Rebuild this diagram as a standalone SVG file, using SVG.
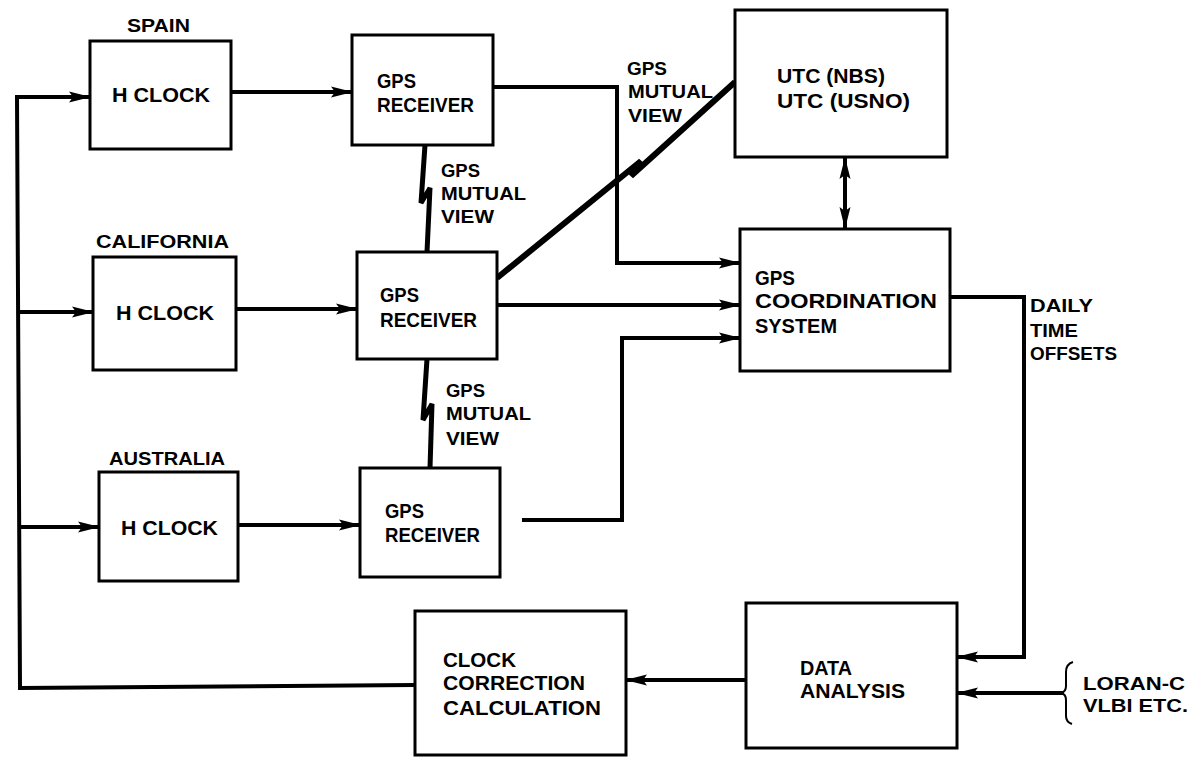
<svg xmlns="http://www.w3.org/2000/svg" width="1192" height="760" viewBox="0 0 1192 760">
<defs>
<marker id="ah" viewBox="0 0 22 12" refX="21" refY="6" markerWidth="22" markerHeight="12" markerUnits="userSpaceOnUse" orient="auto-start-reverse">
<path d="M0,0.5 L22,6 L0,11.5 L4,6 Z" fill="#000"/>
</marker>
<style>
.box{fill:#fff;stroke:#000;stroke-width:3}
.t{font-family:"Liberation Sans",Arial,sans-serif;font-weight:bold;font-size:20px;fill:#000}
.s{font-size:18px}
.ln{fill:none;stroke:#000;stroke-width:4;stroke-linejoin:miter}
.bolt{fill:none;stroke:#000;stroke-width:5;stroke-linejoin:miter}
</style>
</defs>
<rect width="1192" height="760" fill="#fff"/>

<g id="connectors">
<path class="ln" d="M415,685 L20,688 L17,97 L90,97" marker-end="url(#ah)"/>
<path class="ln" d="M19,312 L93,312" marker-end="url(#ah)"/>
<path class="ln" d="M21,527 L99,527" marker-end="url(#ah)"/>
<path class="ln" d="M231,92 L352,92" marker-end="url(#ah)"/>
<path class="ln" d="M236,309 L357,309" marker-end="url(#ah)"/>
<path class="ln" d="M238,525 L360,525" marker-end="url(#ah)"/>
<path class="ln" d="M493,87 L617,87 L617,263 L740,263" marker-end="url(#ah)"/>
<path class="ln" d="M497,305 L740,305" marker-end="url(#ah)"/>
<path class="ln" d="M522,520 L622,520 L622,338 L740,338" marker-end="url(#ah)"/>
<path class="ln" d="M845,158 L845,228" marker-start="url(#ah)" marker-end="url(#ah)"/>
<path class="ln" d="M950,297 L1024,297 L1024,657 L957,657" marker-end="url(#ah)"/>
<path class="ln" d="M1064,693 L957,693" marker-end="url(#ah)"/>
<path class="ln" d="M746,680 L626,680" marker-end="url(#ah)"/>
<path class="bolt" d="M425,145 L421,203 L430,188 L427,252"/>
<path class="bolt" d="M427,359 L423,420 L432,404 L430,468"/>
<path class="bolt" d="M497,278 L641,161 L631,176 L735,82" style="stroke-width:6"/>
<path fill="none" stroke="#000" stroke-width="2" d="M1073,662 Q1066,664 1066,672 L1066,686 Q1066,692 1061,693 Q1066,694 1066,700 L1066,716 Q1066,722 1072,724"/>
</g>

<g id="spain-clock">
<rect class="box" x="90" y="41" width="141" height="108"/>
<text class="t s" x="127" y="32" textLength="63" lengthAdjust="spacingAndGlyphs">SPAIN</text>
<text class="t" x="112" y="102" textLength="98" lengthAdjust="spacingAndGlyphs">H CLOCK</text>
</g>
<g id="california-clock">
<rect class="box" x="93" y="257" width="143" height="113"/>
<text class="t s" x="96" y="248" textLength="133" lengthAdjust="spacingAndGlyphs">CALIFORNIA</text>
<text class="t" x="116" y="320" textLength="98" lengthAdjust="spacingAndGlyphs">H CLOCK</text>
</g>
<g id="australia-clock">
<rect class="box" x="99" y="472" width="139" height="109"/>
<text class="t s" x="109" y="465" textLength="116" lengthAdjust="spacingAndGlyphs">AUSTRALIA</text>
<text class="t" x="121" y="535" textLength="97" lengthAdjust="spacingAndGlyphs">H CLOCK</text>
</g>

<g id="spain-receiver">
<rect class="box" x="352" y="35" width="141" height="110"/>
<text class="t" x="377" y="88" textLength="39" lengthAdjust="spacingAndGlyphs">GPS</text>
<text class="t" x="377" y="112" textLength="97" lengthAdjust="spacingAndGlyphs">RECEIVER</text>
</g>
<g id="california-receiver">
<rect class="box" x="357" y="252" width="140" height="107"/>
<text class="t" x="380" y="302" textLength="39" lengthAdjust="spacingAndGlyphs">GPS</text>
<text class="t" x="380" y="327" textLength="97" lengthAdjust="spacingAndGlyphs">RECEIVER</text>
</g>
<g id="australia-receiver">
<rect class="box" x="360" y="468" width="140" height="109"/>
<text class="t" x="385" y="518" textLength="39" lengthAdjust="spacingAndGlyphs">GPS</text>
<text class="t" x="385" y="542" textLength="95" lengthAdjust="spacingAndGlyphs">RECEIVER</text>
</g>

<g id="mutual-view-labels">
<text class="t s" x="441" y="177" textLength="39" lengthAdjust="spacingAndGlyphs">GPS</text>
<text class="t s" x="441" y="200" textLength="85" lengthAdjust="spacingAndGlyphs">MUTUAL</text>
<text class="t s" x="441" y="223" textLength="53" lengthAdjust="spacingAndGlyphs">VIEW</text>
<text class="t s" x="446" y="397" textLength="39" lengthAdjust="spacingAndGlyphs">GPS</text>
<text class="t s" x="446" y="420" textLength="85" lengthAdjust="spacingAndGlyphs">MUTUAL</text>
<text class="t s" x="446" y="445" textLength="53" lengthAdjust="spacingAndGlyphs">VIEW</text>
<text class="t s" x="627" y="75" textLength="40" lengthAdjust="spacingAndGlyphs">GPS</text>
<text class="t s" x="628" y="98" textLength="85" lengthAdjust="spacingAndGlyphs">MUTUAL</text>
<text class="t s" x="628" y="122" textLength="54" lengthAdjust="spacingAndGlyphs">VIEW</text>
</g>

<g id="utc">
<rect class="box" x="735" y="10" width="212" height="147"/>
<text class="t" x="777" y="83" textLength="108" lengthAdjust="spacingAndGlyphs">UTC (NBS)</text>
<text class="t" x="777" y="108" textLength="133" lengthAdjust="spacingAndGlyphs">UTC (USNO)</text>
</g>
<g id="coordination">
<rect class="box" x="740" y="229" width="210" height="142"/>
<text class="t" x="755" y="285" textLength="40" lengthAdjust="spacingAndGlyphs">GPS</text>
<text class="t" x="755" y="308" textLength="182" lengthAdjust="spacingAndGlyphs">COORDINATION</text>
<text class="t" x="755" y="333" textLength="82" lengthAdjust="spacingAndGlyphs">SYSTEM</text>
</g>
<g id="daily-label">
<text class="t s" x="1030" y="312" textLength="63" lengthAdjust="spacingAndGlyphs">DAILY</text>
<text class="t s" x="1030" y="337" textLength="48" lengthAdjust="spacingAndGlyphs">TIME</text>
<text class="t s" x="1030" y="360" textLength="87" lengthAdjust="spacingAndGlyphs">OFFSETS</text>
</g>
<g id="data-analysis">
<rect class="box" x="746" y="603" width="211" height="145"/>
<text class="t" x="800" y="675" textLength="52" lengthAdjust="spacingAndGlyphs">DATA</text>
<text class="t" x="800" y="698" textLength="105" lengthAdjust="spacingAndGlyphs">ANALYSIS</text>
</g>
<g id="clock-correction">
<rect class="box" x="415" y="611" width="211" height="144"/>
<text class="t" x="443" y="667" textLength="73" lengthAdjust="spacingAndGlyphs">CLOCK</text>
<text class="t" x="443" y="690" textLength="142" lengthAdjust="spacingAndGlyphs">CORRECTION</text>
<text class="t" x="443" y="715" textLength="158" lengthAdjust="spacingAndGlyphs">CALCULATION</text>
</g>
<g id="external-sources">
<text class="t s" x="1083" y="690" textLength="102" lengthAdjust="spacingAndGlyphs">LORAN-C</text>
<text class="t s" x="1083" y="712" textLength="105" lengthAdjust="spacingAndGlyphs">VLBI ETC.</text>
</g>
</svg>
